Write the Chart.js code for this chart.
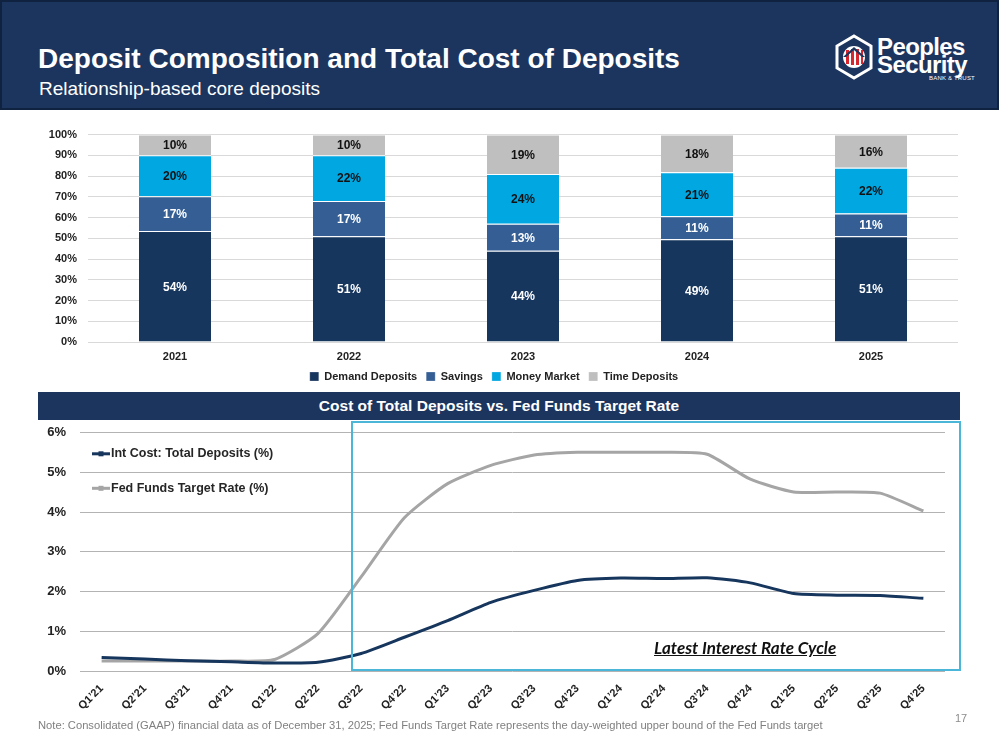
<!DOCTYPE html>
<html>
<head>
<meta charset="utf-8">
<script src="https://cdn.jsdelivr.net/npm/chart.js@4.4.1/dist/chart.umd.min.js"></script>
<style>
  body { margin: 0; background: #fff; font-family: "Liberation Sans", Arial, sans-serif; }
  #slide { position: relative; width: 999px; height: 750px; overflow: hidden; background: #fff; }
  #header { position: absolute; left: 0; top: 0; width: 995px; height: 106px; background: #1c355e; border: 2px solid #0f2240; }
  #title { position: absolute; left: 36px; top: 41px; color: #fff; font-weight: bold; font-size: 28px; }
  #subtitle { position: absolute; left: 37px; top: 76px; color: #fff; font-size: 19px; }
  #logo { position: absolute; left: 834px; top: 33px; }
  #brand1, #brand2 { position: absolute; left: 877px; color: #fff; font-weight: bold; font-size: 24px; letter-spacing: -0.6px; line-height: 20px; }
  #brand1 { top: 37px; }
  #brand2 { top: 55px; }
  #brand3 { position: absolute; left: 929px; top: 75px; color: #fff; font-size: 6px; letter-spacing: 0.2px; }
  #barBox { position: absolute; left: 30px; top: 117px; width: 928px; height: 275px; }
  #banner { position: absolute; left: 38px; top: 392px; width: 922px; height: 28px; background: #1c355e; color: #fff; font-weight: bold; font-size: 15.5px; text-align: center; line-height: 28px; }
  #lineBox { position: absolute; left: 30px; top: 411px; width: 915px; height: 311px; }
  #cycle { position: absolute; left: 351px; top: 421px; width: 606px; height: 246px; border: 2px solid #4bb6d8; pointer-events: none; }
  #cycleText { position: absolute; left: 654px; top: 637px; font-family: Lato, "Open Sans", sans-serif; font-weight: bold; font-style: italic; font-size: 17px; color: #111; text-decoration: underline; }
  #note { position: absolute; left: 38px; top: 719px; font-size: 11.2px; color: #808080; }
  #page { position: absolute; left: 955px; top: 712px; font-size: 11px; color: #8c8c8c; }
</style>
</head>
<body>
<div id="slide">
  <div id="header">
    <div id="title">Deposit Composition and Total Cost of Deposits</div>
    <div id="subtitle">Relationship-based core deposits</div>
  </div>
  <svg id="logo" width="40" height="48" viewBox="0 0 40 48">
    <polygon points="20,3 37,13 37,35 20,45 3,35 3,13" fill="none" stroke="#fff" stroke-width="3"/>
    <circle cx="20" cy="24" r="11" fill="#fff"/>
    <rect x="12" y="17" width="3" height="14" fill="#d7262e"/>
    <rect x="17" y="16" width="3" height="16" fill="#d7262e"/>
    <rect x="22" y="16" width="3" height="16" fill="#d7262e"/>
    <rect x="27" y="17" width="2" height="14" fill="#d7262e"/>
    <polygon points="9,24 20,14 31,24 28,24 20,17 12,24" fill="#1c355e"/>
  </svg>
  <div id="brand1">Peoples</div>
  <div id="brand2">Security</div>
  <div id="brand3">BANK &amp; TRUST</div>

  <div id="barBox"><canvas id="barChart"></canvas></div>
  <div id="banner">Cost of Total Deposits vs. Fed Funds Target Rate</div>
  <div id="lineBox"><canvas id="lineChart"></canvas></div>
  <div id="cycle"></div>
  <div id="cycleText">Latest Interest Rate Cycle</div>

  <div id="note">Note: Consolidated (GAAP) financial data as of December 31, 2025; Fed Funds Target Rate represents the day-weighted upper bound of the Fed Funds target</div>
  <div id="page">17</div>
</div>

<script>
// deposit mix, % of total deposits (as labelled)
const years = ["2021", "2022", "2023", "2024", "2025"];
const demandDeposits = [54, 51, 44, 49, 51];
const savings = [17, 17, 13, 11, 11];
const moneyMarket = [20, 22, 24, 21, 22];
const timeDeposits = [10, 10, 19, 18, 16];

// quarterly rates, %
const quarters = ["Q1’21", "Q2’21", "Q3’21", "Q4’21", "Q1’22", "Q2’22", "Q3’22", "Q4’22",
  "Q1’23", "Q2’23", "Q3’23", "Q4’23", "Q1’24", "Q2’24", "Q3’24", "Q4’24",
  "Q1’25", "Q2’25", "Q3’25", "Q4’25"];
const intCost = [0.34, 0.30, 0.26, 0.23, 0.20, 0.22, 0.44, 0.85, 1.27, 1.73, 2.03, 2.28,
  2.34, 2.33, 2.35, 2.22, 1.95, 1.91, 1.90, 1.83];
const fedFunds = [0.25, 0.25, 0.25, 0.25, 0.29, 0.94, 2.37, 3.86, 4.72, 5.18, 5.44, 5.51,
  5.51, 5.51, 5.46, 4.83, 4.51, 4.51, 4.48, 4.03];

const FONT = "Liberation Sans";

// stacks are shown as a share of 100%
const totals = years.map((y, i) => demandDeposits[i] + savings[i] + moneyMarket[i] + timeDeposits[i]);
const share = arr => arr.map((v, i) => v / totals[i] * 100);

const barLabels = {
  id: "barLabels",
  afterDatasetsDraw(chart) {
    const ctx = chart.ctx;
    chart.data.datasets.forEach((ds, i) => {
      const meta = chart.getDatasetMeta(i);
      meta.data.forEach((bar, j) => {
        const p = bar.getProps(["x", "y", "base"], true);
        ctx.save();
        ctx.fillStyle = ds.labelColor;
        ctx.font = "bold 12px " + FONT;
        ctx.textAlign = "center";
        ctx.textBaseline = "middle";
        ctx.fillText(ds.labelValues[j] + "%", p.x, (p.y + p.base) / 2 + 1);
        ctx.restore();
      });
    });
  }
};

function stack(label, values, color, labelColor) {
  return {
    label: label,
    data: share(values),
    labelValues: values,
    labelColor: labelColor,
    backgroundColor: color,
    borderColor: "#ffffff",
    borderWidth: { top: 1, bottom: 0, left: 0, right: 0 },
    categoryPercentage: 1,
    barPercentage: 0.414
  };
}

new Chart(document.getElementById("barChart"), {
  type: "bar",
  data: {
    labels: years,
    datasets: [
      stack("Demand Deposits", demandDeposits, "#17365d", "#ffffff"),
      stack("Savings", savings, "#355f94", "#ffffff"),
      stack("Money Market", moneyMarket, "#00a7e1", "#111111"),
      stack("Time Deposits", timeDeposits, "#bfbfbf", "#111111")
    ]
  },
  options: {
    responsive: true,
    maintainAspectRatio: false,
    animation: false,
    layout: { padding: { top: 10 } },
    scales: {
      x: {
        stacked: true,
        grid: { display: false },
        border: { display: false },
        ticks: { color: "#222", font: { family: FONT, size: 11, weight: "bold" }, padding: 0 },
        afterFit: s => { s.height = 20; }
      },
      y: {
        stacked: true,
        min: 0,
        max: 100,
        ticks: { stepSize: 10, callback: v => v + "%", color: "#222", font: { family: FONT, size: 11, weight: "bold" }, padding: 11 },
        grid: { color: "#d9d9d9", drawTicks: false },
        border: { display: false },
        afterFit: s => { s.width = 58; }
      }
    },
    plugins: {
      tooltip: { enabled: false },
      legend: {
        position: "bottom",
        labels: { boxWidth: 9, boxHeight: 9, padding: 9, color: "#222", font: { family: FONT, size: 11, weight: "bold" } }
      }
    }
  },
  plugins: [barLabels]
});

// legend drawn inside the plot, top-left, Excel style
const insetLegend = {
  id: "insetLegend",
  afterDraw(chart) {
    const { ctx, chartArea } = chart;
    chart.data.datasets.forEach((ds, i) => {
      const x = chartArea.left + 12;
      const y = chartArea.top + 21 + i * 34.5;
      ctx.save();
      ctx.fillStyle = ds.borderColor;
      ctx.fillRect(x, y - 1.5, 18, 3);
      ctx.fillRect(x + 6.5, y - 2.5, 5, 5);
      ctx.fillStyle = "#262626";
      ctx.font = "bold 12.5px " + FONT;
      ctx.textBaseline = "middle";
      ctx.fillText(ds.label, x + 19, y);
      ctx.restore();
    });
  }
};

new Chart(document.getElementById("lineChart"), {
  type: "line",
  data: {
    labels: quarters,
    datasets: [
      { label: "Int Cost: Total Deposits (%)", data: intCost, borderColor: "#17365d", borderWidth: 3,
        pointRadius: 0, tension: 0.2 },
      { label: "Fed Funds Target Rate (%)", data: fedFunds, borderColor: "#a5a5a5", borderWidth: 3,
        pointRadius: 0, tension: 0.2 }
    ]
  },
  options: {
    responsive: true,
    maintainAspectRatio: false,
    animation: false,
    layout: { padding: { top: 10 } },
    scales: {
      x: {
        offset: true,
        grid: { display: false },
        border: { display: false },
        ticks: { minRotation: 45, maxRotation: 45, autoSkip: false, color: "#222", font: { family: FONT, size: 11, weight: "bold" } },
        afterFit: s => { s.height = 51; }
      },
      y: {
        min: 0,
        max: 6,
        ticks: { stepSize: 1, callback: v => v + "%", color: "#222", font: { family: FONT, size: 13, weight: "bold" }, padding: 14 },
        grid: { color: "#b3b3b3", drawTicks: false },
        border: { display: false },
        afterFit: s => { s.width = 50; }
      }
    },
    plugins: {
      tooltip: { enabled: false },
      legend: { display: false }
    }
  },
  plugins: [insetLegend]
});
</script>
</body>
</html>
